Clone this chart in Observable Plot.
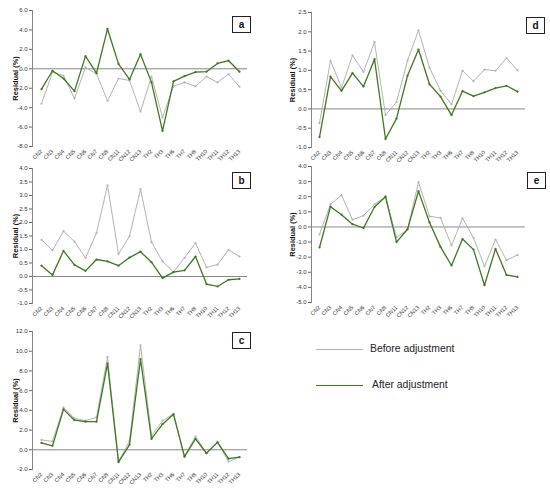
<!DOCTYPE html>
<html><head><meta charset="utf-8">
<script src="https://cdn.jsdelivr.net/npm/d3@7"></script>
<script src="https://cdn.jsdelivr.net/npm/@observablehq/plot@0.6"></script>
<style>
body{margin:0;background:#fff;font-family:"Liberation Sans",Arial,sans-serif;}
#root{position:relative;width:550px;height:491px;overflow:hidden;background:#fff;}
.panel{position:absolute;}
.panel svg{overflow:visible;}
g[aria-label="y-axis label"] text{font-weight:bold;font-size:7.4px;fill:#111;}
.box{position:absolute;border:1.3px solid #222;box-sizing:border-box;font-weight:bold;font-size:10px;line-height:1;display:flex;align-items:center;justify-content:center;color:#111;}
.leg{position:absolute;font-size:10.4px;color:#222;}
.legline{position:absolute;height:0;}
</style></head>
<body><div id="root"></div>
<script>
const cats = ["CN2","CN3","CN4","CN5","CN6","CN7","CN8","CN11","CN12","CN13","TH2","TH3","TH6","TH7","TH8","TH10","TH11","TH12","TH13"];

const aBefore = [-3.6,-0.35,-0.7,-3.05,0.15,-0.5,-3.3,-1.0,-1.2,-4.4,-0.8,-5.0,-1.8,-1.4,-1.8,-0.8,-1.4,-0.55,-1.85];
const aAfter  = [-2.1,-0.2,-1.0,-2.3,1.3,-0.45,4.1,0.5,-1.1,1.5,-1.4,-6.4,-1.3,-0.75,-0.35,-0.3,0.55,0.85,-0.3];
const aTicks  = [6,4,2,0,-2,-4,-6,-8];

const bBefore = [1.36,0.97,1.68,1.29,0.69,1.61,3.38,0.83,1.49,3.24,1.27,0.56,0.17,0.69,1.24,0.34,0.44,0.99,0.74];
const bAfter  = [0.4,0.06,0.95,0.43,0.21,0.63,0.56,0.4,0.7,0.92,0.53,-0.06,0.16,0.23,0.74,-0.28,-0.37,-0.12,-0.09];
const bTicks  = [4,3.5,3,2.5,2,1.5,1,0.5,0,-0.5,-1];

const cBefore = [1.0,0.85,4.3,3.2,2.95,3.3,9.4,-1.2,0.9,10.6,1.45,2.95,3.65,-0.7,1.35,-0.35,0.8,-1.2,-0.75];
const cAfter  = [0.7,0.4,4.1,3.0,2.85,2.85,8.75,-1.25,0.5,9.2,1.1,2.6,3.6,-0.7,1.1,-0.35,0.75,-0.9,-0.75];
const cTicks  = [12,10,8,6,4,2,0,-2];

const dBefore = [-0.37,1.25,0.55,1.39,0.96,1.73,-0.16,0.18,1.25,2.04,1.07,0.47,0.12,0.99,0.72,1.02,0.99,1.32,1.0];
const dAfter  = [-0.73,0.84,0.47,0.93,0.58,1.29,-0.78,-0.25,0.86,1.54,0.64,0.32,-0.16,0.46,0.33,0.43,0.54,0.6,0.45];
const dTicks  = [2.5,2,1.5,1,0.5,0,-0.5,-1];

const eBefore = [-0.5,1.5,2.1,0.48,0.75,1.5,2.0,-0.68,-0.18,2.96,0.7,0.6,-1.23,0.57,-0.72,-2.6,-0.83,-2.2,-1.85];
const eAfter  = [-1.36,1.34,0.81,0.18,-0.07,1.32,2.0,-1.0,-0.15,2.37,0.3,-1.32,-2.55,-0.8,-1.5,-3.86,-1.45,-3.18,-3.3];
const eTicks  = [4,3,2,1,0,-1,-2,-3,-4,-5];

const panelLabels = ["a","b","c","d","e"];
const legendLabels = ["Before adjustment","After adjustment"];

const GRAY = "#b3b3b3", GREEN = "#3b7a1e";
const root = document.getElementById("root");

function panel(before, after, ticks, cfg){
  const chart = Plot.plot({
    width: cfg.w, height: cfg.h,
    marginLeft: cfg.ml, marginRight: cfg.mr, marginTop: cfg.mt, marginBottom: cfg.mb,
    style: {fontFamily: "Liberation Sans, Arial, sans-serif", fontSize: "6px", background: "transparent", color: "#333"},
    x: {type: "point", domain: cats, padding: 0.5},
    y: {domain: [d3.min(ticks), d3.max(ticks)]},
    marks: [
      Plot.frame({anchor: "left", stroke: "#666", strokeWidth: 0.8}),
      Plot.axisY({ticks: ticks, tickFormat: d => d.toFixed(1), tickSize: 3, tickPadding: 2, fontSize: 6,
        label: "Residual (%)", labelAnchor: "center", labelOffset: cfg.lo, labelArrow: false, stroke: "#666"}),
      Plot.axisX({tickRotate: -45, tickSize: 0, tickPadding: 4, fontSize: 5.6, label: null}),
      Plot.ruleY([0], {stroke: "#888", strokeWidth: 1}),
      Plot.lineY(before, {x: cats, y: d => d, stroke: GRAY, strokeWidth: 1}),
      Plot.dot(before, {x: cats, y: d => d, r: 1.1, fill: GRAY}),
      Plot.lineY(after, {x: cats, y: d => d, stroke: GREEN, strokeWidth: 1.3}),
      Plot.dot(after, {x: cats, y: d => d, r: 1.1, fill: GREEN})
    ]
  });
  const div = document.createElement("div");
  div.className = "panel";
  div.style.left = cfg.x + "px"; div.style.top = cfg.y + "px";
  div.appendChild(chart);
  root.appendChild(div);
  const box = document.createElement("div");
  box.className = "box";
  box.textContent = cfg.label;
  box.style.left = cfg.bx + "px"; box.style.top = cfg.by + "px";
  box.style.width = "19px"; box.style.height = "17px";
  root.appendChild(box);
}

panel(aBefore, aAfter, aTicks, {x:0, y:0, w:275, h:165, ml:32, mr:28, mt:10, mb:19, lo:20, label:panelLabels[0], bx:232, by:16});
panel(bBefore, bAfter, bTicks, {x:0, y:165, w:275, h:160, ml:32, mr:28, mt:3, mb:22, lo:20, label:panelLabels[1], bx:232, by:172});
panel(cBefore, cAfter, cTicks, {x:0, y:325, w:275, h:166, ml:32, mr:28, mt:6, mb:22, lo:20, label:panelLabels[2], bx:232, by:332});
panel(dBefore, dAfter, dTicks, {x:275, y:0, w:275, h:165, ml:36, mr:25, mt:12, mb:18, lo:22, label:panelLabels[3], bx:526, by:17});
panel(eBefore, eAfter, eTicks, {x:275, y:165, w:275, h:160, ml:36, mr:25, mt:1, mb:23, lo:22, label:panelLabels[4], bx:527, by:172});

// legend
[[GRAY, 350, 370, legendLabels[0]], [GREEN, 386, 372, legendLabels[1]]].forEach(([c, y, tx, t]) => {
  const l = document.createElement("div");
  l.className = "legline";
  l.style.left = "316px"; l.style.top = (y - 0.75) + "px"; l.style.width = "47px";
  l.style.borderTop = "1.5px solid " + c;
  root.appendChild(l);
  const s = document.createElement("div");
  s.className = "leg"; s.textContent = t;
  s.style.left = tx + "px"; s.style.top = (y - 7) + "px";
  root.appendChild(s);
});
</script></body></html>
